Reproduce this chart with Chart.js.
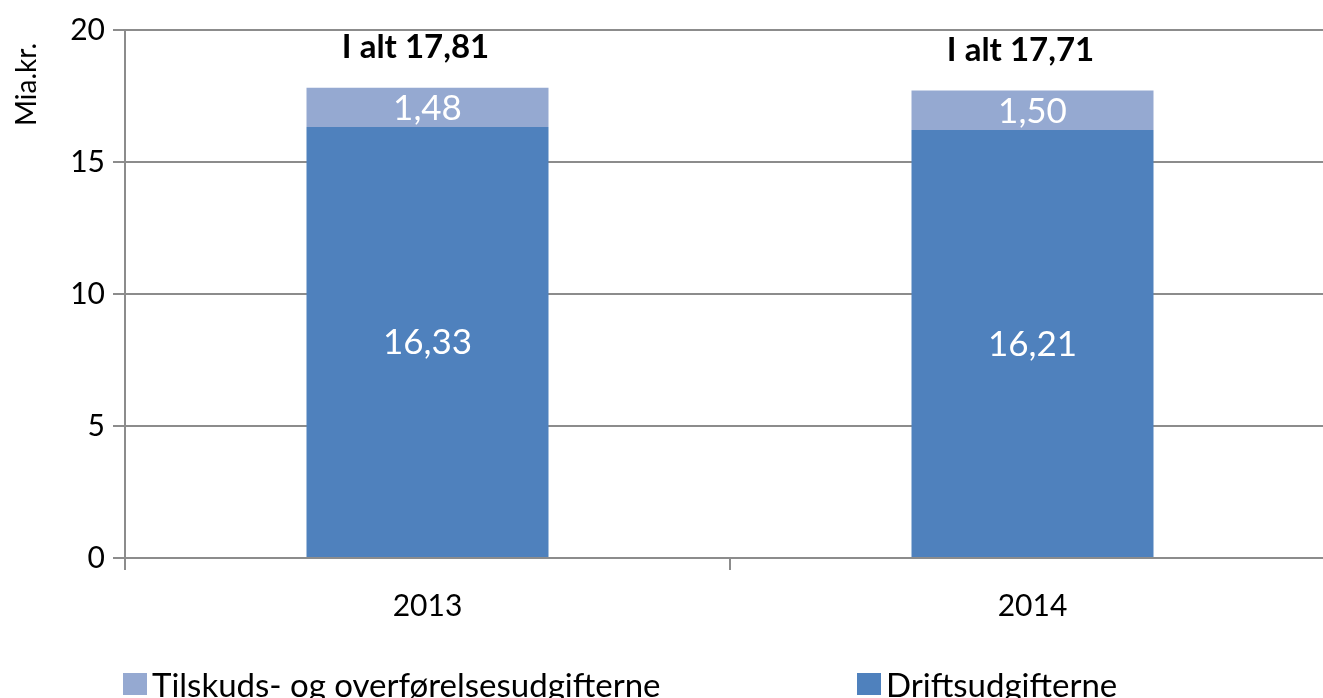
<!DOCTYPE html>
<html>
<head>
<meta charset="utf-8">
<script src="https://cdn.jsdelivr.net/npm/chart.js@4"></script>
<style>
  html, body { margin: 0; padding: 0; background: #fff; overflow: hidden; }
  #wrap { position: relative; width: 1323px; height: 698px; overflow: hidden; }
  #box { position: absolute; left: 0; top: 0; width: 1345px; height: 698px; }
  .leg { position: absolute; top: 664px; font: 33px Lato, sans-serif; color: #000; white-space: nowrap; display: flex; align-items: center; }
  .leg span.sw { display: inline-block; width: 24px; height: 22px; margin-right: 5px; }
</style>
</head>
<body>
<div id="wrap">
  <div id="box"><canvas id="chart"></canvas></div>
  <div id="legend"></div>
</div>
<script>
// data
const years = ['2013', '2014'];
const drift = [16.33, 16.21];
const tilskud = [1.48, 1.50];
const totals = [17.81, 17.71];
const yTicks = [0, 5, 10, 15, 20];
const yTitle = 'Mia.kr.';

const fmt = v => v.toFixed(2).replace('.', ',');

// etiketter inde i søjlerne + I alt + aksetitel
const valueLabels = {
    id: 'valueLabels',
    afterDatasetsDraw(chart) {
        const ctx = chart.ctx;
        ctx.save();
        ctx.fillStyle = '#fff';
        ctx.font = '35px Lato, sans-serif';
        ctx.textAlign = 'center';
        ctx.textBaseline = 'middle';
        chart.data.datasets.forEach((ds, i) => {
            chart.getDatasetMeta(i).data.forEach((bar, j) => {
                const mid = (bar.y + bar.base) / 2;
                ctx.fillText(fmt(ds.data[j]), bar.x, mid + 1);
            });
        });
        // I alt over søjlerne
        ctx.fillStyle = '#000';
        ctx.font = 'bold 33px Lato, sans-serif';
        const top = chart.getDatasetMeta(1).data;
        top.forEach((bar, j) => {
            ctx.fillText('I alt ' + fmt(totals[j]), bar.x - 12, bar.y - 40);
        });
        // y-aksens titel, øverst
        ctx.font = '28px Lato, sans-serif';
        ctx.translate(27, chart.chartArea.top + 13);
        ctx.rotate(-Math.PI / 2);
        ctx.textAlign = 'right';
        ctx.fillText(yTitle, 0, 0);
        ctx.restore();
    }
};

const chart = new Chart(document.getElementById('chart'), {
    type: 'bar',
    data: {
        labels: years,
        datasets: [
            { label: 'Driftsudgifterne', data: drift, backgroundColor: '#4F81BD' },
            { label: 'Tilskuds- og overførelsesudgifterne', data: tilskud, backgroundColor: '#95A9D1' }
        ]
    },
    options: {
        responsive: true,
        maintainAspectRatio: false,
        animation: false,
        layout: { padding: { top: 30, right: 10, left: 0, bottom: 0 } },
        datasets: { bar: { categoryPercentage: 1, barPercentage: 0.4 } },
        plugins: {
            legend: { display: false },
            tooltip: { enabled: false }
        },
        scales: {
            x: {
                stacked: true,
                afterFit: s => { s.height = 140; },
                grid: { offset: true, drawOnChartArea: false, drawTicks: true, tickLength: 12, color: '#8c8c8c', lineWidth: 2 },
                border: { display: true, color: '#8c8c8c', width: 2 },
                ticks: { color: '#000', font: { family: 'Lato', size: 30 }, padding: 18 }
            },
            y: {
                stacked: true,
                min: 0,
                max: 20,
                afterFit: s => { s.width = 125; },
                afterBuildTicks: s => { s.ticks = yTicks.map(v => ({ value: v })); },
                grid: { color: '#8c8c8c', lineWidth: 2, tickLength: 12 },
                border: { display: true, color: '#8c8c8c', width: 2 },
                ticks: { color: '#000', font: { family: 'Lato', size: 30 }, padding: 8 }
            }
        }
    },
    plugins: [valueLabels]
});

// legende (samme rækkefølge som originalen)
const legendPos = [123, 857];
const legendEl = document.getElementById('legend');
[1, 0].forEach((dsIndex, k) => {
    const ds = chart.data.datasets[dsIndex];
    const item = document.createElement('div');
    item.className = 'leg';
    item.style.left = legendPos[k] + 'px';
    item.innerHTML = '<span class="sw" style="background:' + ds.backgroundColor + '"></span>' + ds.label;
    legendEl.appendChild(item);
});
</script>
</body>
</html>
